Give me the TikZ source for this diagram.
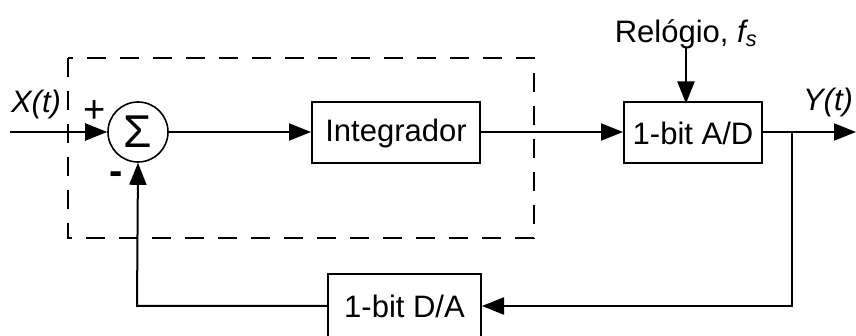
\documentclass[tikz,border=0pt]{standalone}
\usepackage{fontspec}
\setmainfont{Liberation Sans}
\usetikzlibrary{arrows.meta}
\begin{document}
\begin{tikzpicture}[x=1pt,y=-1pt,
  font=\fontsize{31pt}{36pt}\selectfont,
  wire/.style={line width=2pt},
  arr/.style={wire,-{Triangle[length=22pt,width=17pt]}},
  block/.style={draw,line width=2pt,inner sep=0pt,minimum height=61pt},
  sumc/.style={draw,circle,line width=1.6pt,minimum size=60pt,inner sep=0pt},
  lbl/.style={inner sep=0pt}]
\clip (0,0) rectangle (856,336);
\fill[white] (0,0) rectangle (856,336);

% modulator boundary
\draw[line width=2pt,dash pattern=on 19pt off 14pt] (68,58) rectangle (534,238);

% blocks
\node[sumc] (sum) at (138,132) {\fontsize{46pt}{50pt}\selectfont Σ};
\node[block,minimum width=168pt] (int) at (396,133) {Integrador};
\node[block,minimum width=138pt] (ad) at (693,133) {1-bit A/D};
\node[block,minimum width=153pt,minimum height=63pt] (da) at (404.5,306) {1-bit D/A};

% labels
\node[lbl] (x) at (36,104) {\itshape X(t)};
\node[lbl] (y) at (828,102) {\itshape Y(t)};
\node[lbl] (plus) at (95,112) {\fontsize{38pt}{40pt}\selectfont +};
\node[lbl] (minus) at (116,178) {\fontsize{40pt}{40pt}\selectfont\bfseries -};
\node[lbl,anchor=base] (rel) at (686,43) {Relógio, {\itshape f\textsubscript{s}}};

% junctions
\coordinate (in) at (10,132);
\coordinate (out) at (856,132);
\coordinate (j) at (792,132);
\coordinate (jb) at (792,306);
\coordinate (fb) at (137,306);

% signal path
\draw[arr] (in) -- (sum.west);
\draw[arr] (sum.east) -- (sum.east -| int.west);
\draw[arr] (int.east |- sum.east) -- (sum.east -| ad.west);
\draw[arr] (ad.east |- sum.east) -- (out);
\draw[arr] (686,47) -- (686,103.5);
\draw[arr] (j) -- (jb) -- (da.east);
\draw[arr] (da.west) -- (fb) -- (sum.south);
\end{tikzpicture}
\end{document}
